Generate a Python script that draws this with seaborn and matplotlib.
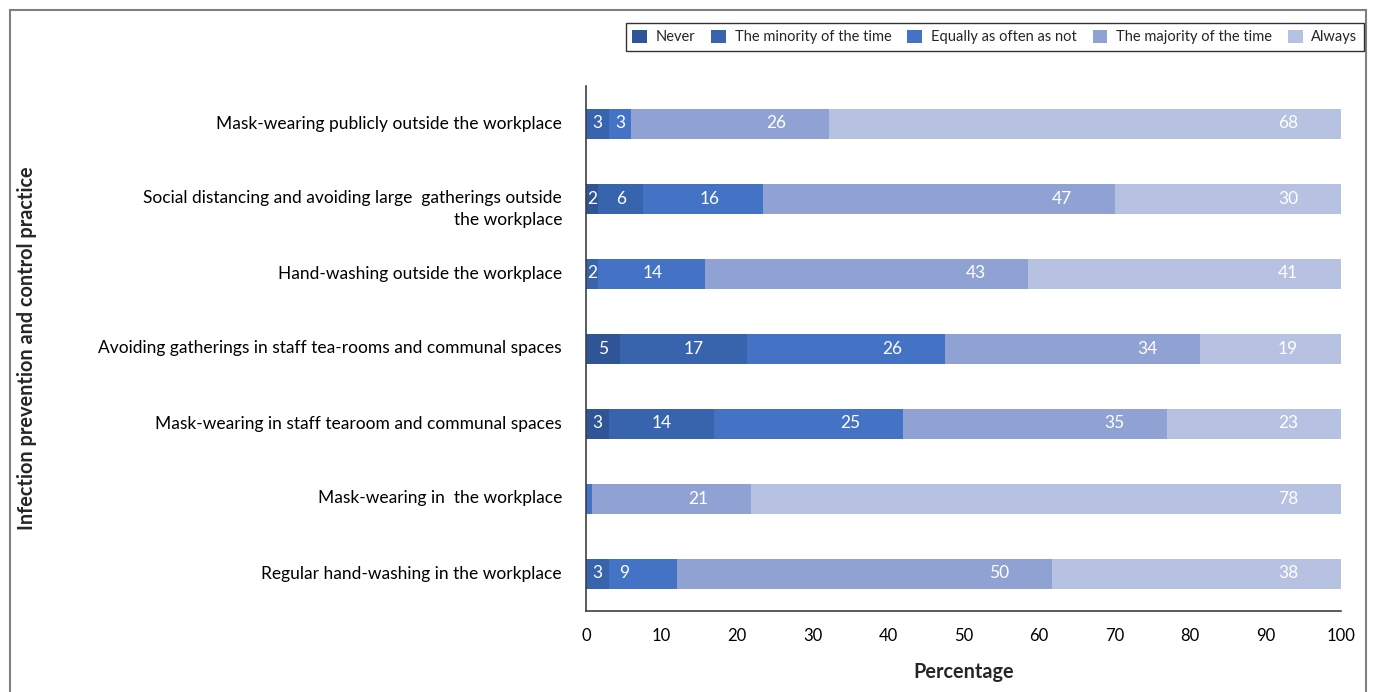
import matplotlib
matplotlib.use("Agg")
import matplotlib.pyplot as plt
import matplotlib.transforms as mtrans
from matplotlib.patches import Patch, Rectangle
import numpy as np
import pandas as pd
import seaborn as sns

# ---------------- data ----------------
categories = [
    "Mask-wearing publicly outside the workplace",
    "Social distancing and avoiding large  gatherings outside\nthe workplace",
    "Hand-washing outside the workplace",
    "Avoiding gatherings in staff tea-rooms and communal spaces",
    "Mask-wearing in staff tearoom and communal spaces",
    "Mask-wearing in  the workplace",
    "Regular hand-washing in the workplace",
]
series_names = ["Never", "The minority of the time", "Equally as often as not",
                "The majority of the time", "Always"]
never = [0, 1.6, 0, 4.5, 3, 0, 0]
minority = [3, 6, 1.6, 16.8, 14, 0, 3]
equally = [3, 15.8, 14.2, 26.2, 25, 0.8, 9]
majority = [26.2, 46.6, 42.8, 33.8, 35, 21, 49.7]
always = [67.8, 30, 41.4, 18.7, 23, 78.2, 38.3]
x_ticks = [0, 10, 20, 30, 40, 50, 60, 70, 80, 90, 100]

colors = ["#2F5597", "#3864AE", "#4472C4", "#8FA2D3", "#B7C1E1"]

# ---------------- style ----------------
sns.set_style("white")
plt.rcParams["font.family"] = ["Lato", "DejaVu Sans"]

W, H = 1376, 692
fig = plt.figure(figsize=(W / 100, H / 100), dpi=100)
ax = fig.add_axes([586 / W, 1 - 611 / H, (1341 - 586) / W, (611 - 86) / H])

series = [never, minority, equally, majority, always]
vals = np.array(series, dtype=float)
cum = np.cumsum(vals, axis=0)

# draw cumulative layers, back to front
for i in range(len(series) - 1, -1, -1):
    df = pd.DataFrame({"practice": categories, "value": cum[i]})
    sns.barplot(data=df, x="value", y="practice", orient="h", color=colors[i],
                saturation=1, width=0.4, ax=ax, errorbar=None,
                linewidth=0, edgecolor="none")

# data labels
for i in range(len(series)):
    for j in range(len(categories)):
        v = vals[i, j]
        if v < 1:
            continue
        end = cum[i, j]
        start = end - v
        xpos = end - 7 if v >= 8 else (start + end) / 2
        ax.text(xpos, j, str(int(np.floor(v + 0.5))), color="white",
                ha="center", va="center", fontsize=12.5)

ax.set_xlim(0, 100)
ax.set_ylim(len(categories) - 0.5, -0.5)
ax.set_xticks(x_ticks)
ax.set_xticklabels([str(t) for t in x_ticks], fontsize=12)
ax.set_yticks(range(len(categories)))
ax.set_yticklabels([""] * len(categories))
ax.set_yticks(np.arange(-0.5, len(categories) + 0.5, 1), minor=True)

# category labels
ytrans = mtrans.blended_transform_factory(ax.transAxes, ax.transData)
xlab = (562 - 586) / 755
for j, cat in enumerate(categories):
    if "\n" in cat:
        ax.text(xlab, j - 0.12, cat, transform=ytrans, ha="right", va="top",
                multialignment="right", fontsize=12.5, linespacing=1.5,
                color="black")
    else:
        ax.text(xlab, j, cat, transform=ytrans, ha="right", va="center",
                fontsize=12.5, color="black")

for s in ["top", "right"]:
    ax.spines[s].set_visible(False)
for s in ["left", "bottom"]:
    ax.spines[s].set_color("#404040")
    ax.spines[s].set_linewidth(1.2)

ax.tick_params(axis="x", which="major", direction="out", length=6, width=1,
               color="#404040", pad=6, labelcolor="black")
ax.tick_params(axis="y", which="major", length=0)
ax.tick_params(axis="y", which="minor", direction="out", length=7, width=1,
               color="#404040")

ax.set_xlabel("Percentage", fontsize=14.3, fontweight="bold")
ax.xaxis.set_label_coords(0.5, (611 - 662) / 525)
ax.set_ylabel("Infection prevention and control practice", fontsize=14.3,
              fontweight="bold")
ax.yaxis.set_label_coords((37 - 586) / 755, 0.5)

handles = [Patch(facecolor=c, edgecolor="none") for c in colors]
leg = fig.legend(handles, series_names, loc="upper right",
                 bbox_to_anchor=(1364 / W, 1 - 23 / H), ncol=5, fontsize=10.5,
                 frameon=True, fancybox=False, handlelength=1.0,
                 handleheight=1.0, handletextpad=0.6, columnspacing=1.1,
                 borderpad=0.45, borderaxespad=0)
leg.get_frame().set_edgecolor("black")
leg.get_frame().set_linewidth(1.0)

fig.add_artist(Rectangle((10 / W, -0.1), (1366 - 10) / W, 1.1 - 10 / H,
                         transform=fig.transFigure, fill=False,
                         edgecolor="#808080", linewidth=1.5))

fig.savefig("out.png", dpi=100)
